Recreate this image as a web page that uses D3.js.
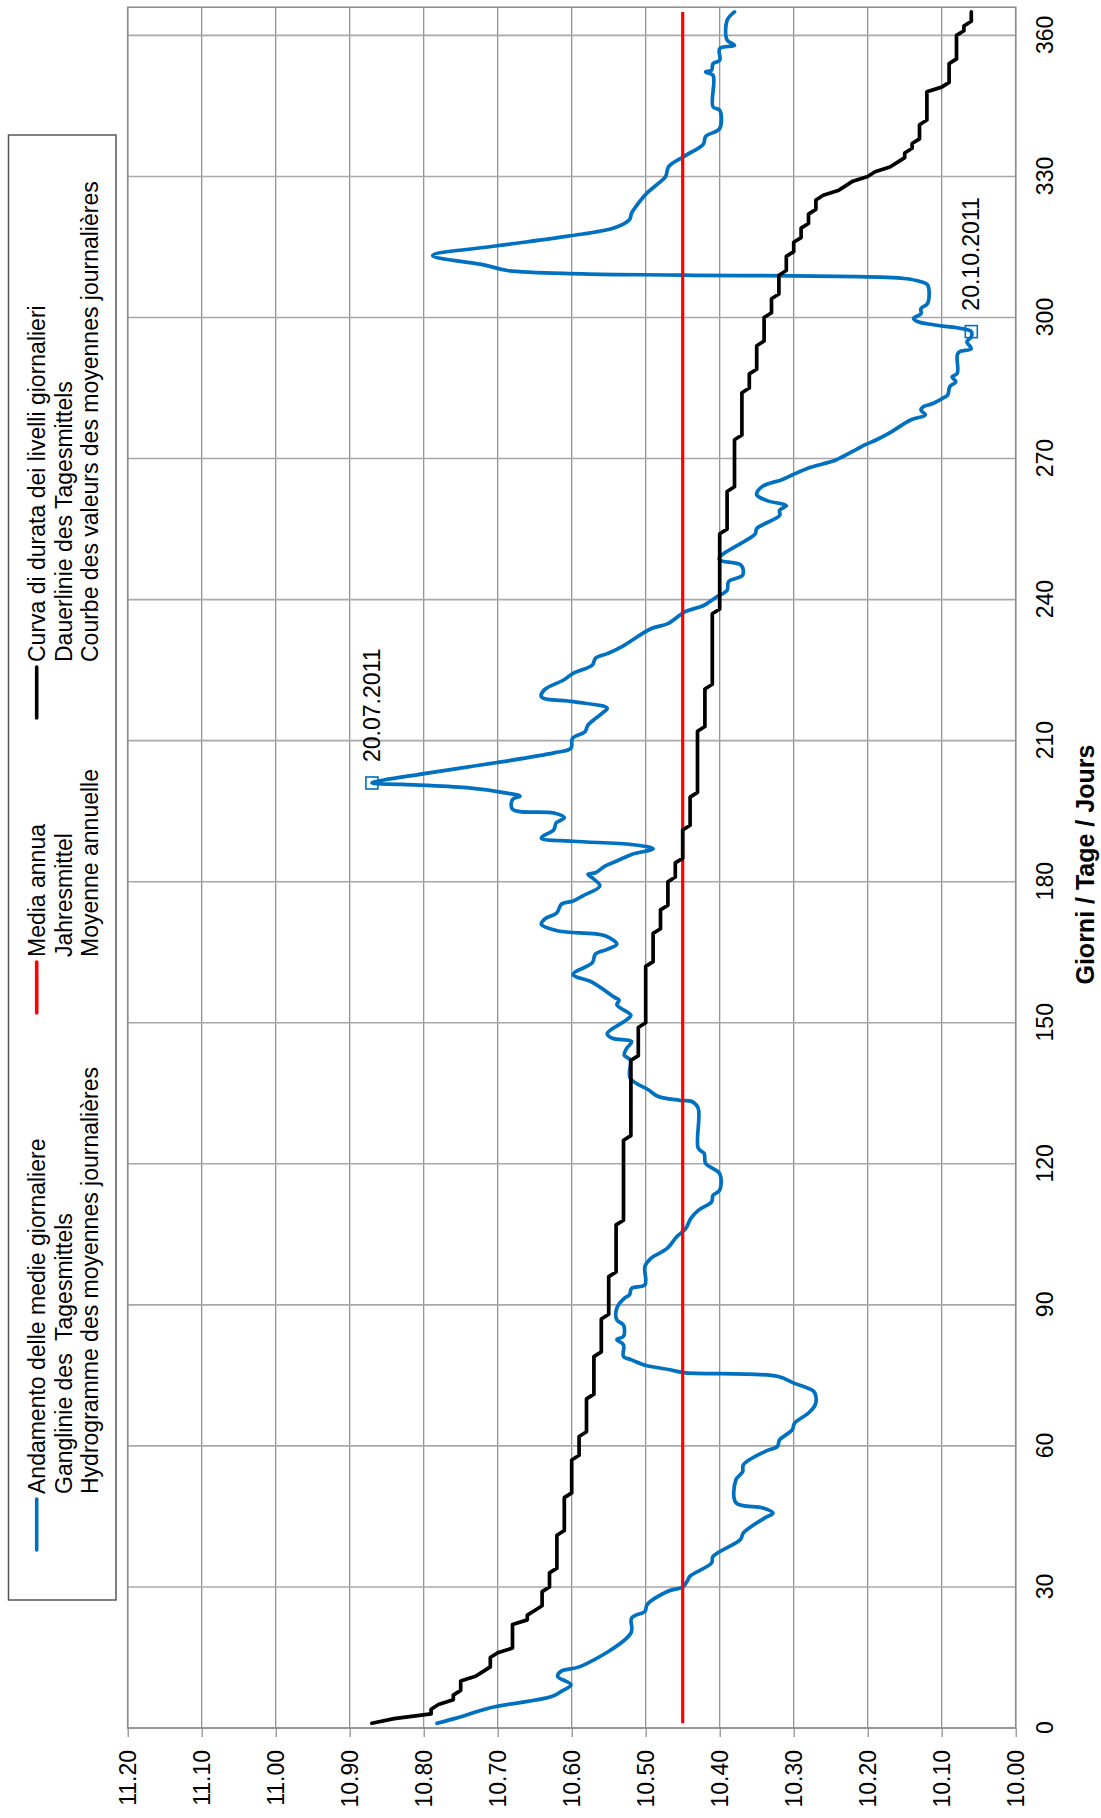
<!DOCTYPE html>
<html>
<head>
<meta charset="utf-8">
<script src="https://cdn.jsdelivr.net/npm/d3@7"></script>
<style>
  html, body { margin: 0; padding: 0; background: #fff; }
  svg { display: block; }
</style>
</head>
<body>
<script>
// Axis ticks
const dayTicks = [0, 30, 60, 90, 120, 150, 180, 210, 240, 270, 300, 330, 360];
const levelTicks = [10.0, 10.1, 10.2, 10.3, 10.4, 10.5, 10.6, 10.7, 10.8, 10.9, 11.0, 11.1, 11.2];

// Daily mean water level (hydrograph), day of year and level [m]
const hydroDays = [
  1, 2.1, 4.3, 6.7, 7.8, 9.2, 11.0, 12.1, 13.1, 20.2, 23.4, 24.8, 25.9, 26.6, 29.1, 30.0,
  31.2, 32.3, 35.1, 36.5, 40.1, 41.5, 44.7, 45.7, 46.8, 47.9, 52.8, 54.5, 56.0, 58.8, 59.9,
  61.3, 63.4, 64.8, 67.0, 68.7, 70.5, 71.6, 73.3, 74.8, 75.6, 76.2, 77.2, 78.3, 79.0, 81.5,
  82.6, 83.3, 85.7, 86.8, 89.3, 91.4, 92.1, 93.5, 94.3, 98.2, 99.9, 102.0, 104.5, 106.2,
  108.4, 110.1, 111.9, 113.3, 114.4, 117.9, 120.1, 122.2, 123.3, 131.8, 133.2, 133.5, 134.3,
  135.7, 138.2, 142.1, 143.1, 144.5, 146.0, 146.7, 147.7, 150.6, 151.6, 153.8, 154.8, 155.4,
  158.6, 160.3, 162.8, 164.6, 165.6, 166.7, 168.5, 169.5, 170.9, 172.0, 173.4, 175.2, 175.9,
  177.0, 179.1, 180.8, 181.6, 181.9, 183.3, 184.4, 185.8, 187.0, 187.9, 188.6, 189.3, 191.1,
  192.5, 193.6, 194.6, 195.4, 197.5, 198.2, 198.9, 200.0, 200.7, 201.0, 203.1, 205.3, 207.4,
  208.4, 210.5, 211.9, 213.3, 215.8, 216.9, 218.3, 219.3, 220.8, 222.9, 224.3, 226.1, 227.5,
  228.5, 230.0, 233.8, 234.9, 237.4, 238.8, 240.6, 242.0, 243.8, 245.2, 247.3, 248.4, 249.1,
  254.0, 255.1, 257.9, 259.0, 260.0, 261.0, 262.3, 264.1, 265.5, 266.5, 268.0, 269.7, 271.8,
  272.9, 274.0, 275.4, 278.2, 279.3, 280.3, 281.0, 281.7, 282.8, 283.5, 285.3, 286.3, 287.4,
  288.1, 292.0, 292.7, 293.4, 294.8, 295.9, 297.0, 298.4, 299.1, 299.8, 300.8, 301.9, 303.0,
  306.9, 307.6, 308.3, 309.0, 309.3, 310.0, 311.1, 313.2, 315.2, 317.3, 319.1, 320.8, 322.2,
  324.7, 326.5, 328.9, 330.0, 332.1, 334.2, 336.9, 338.5, 340.2, 344.1, 344.8, 351.5, 352.2,
  352.6, 354.0, 354.7, 357.2, 357.9, 359.0, 363.2, 365.0
];
const hydroLevels = [
  10.782, 10.756, 10.710, 10.627, 10.614, 10.601, 10.619, 10.614, 10.588, 10.520, 10.519, 10.501, 10.499, 10.496, 10.470, 10.450,
  10.444, 10.440, 10.411, 10.409, 10.372, 10.368, 10.339, 10.328, 10.342, 10.378, 10.378, 10.369, 10.368, 10.339, 10.322,
  10.319, 10.302, 10.299, 10.280, 10.271, 10.270, 10.273, 10.299, 10.322, 10.449, 10.467, 10.502, 10.519, 10.530, 10.530,
  10.539, 10.530, 10.530, 10.539, 10.539, 10.529, 10.522, 10.519, 10.501, 10.501, 10.493, 10.471, 10.458, 10.446,
  10.439, 10.429, 10.411, 10.409, 10.400, 10.400, 10.419, 10.421, 10.429, 10.429, 10.437, 10.454, 10.483,
  10.496, 10.521, 10.521, 10.529, 10.526, 10.519, 10.545, 10.552, 10.526, 10.520, 10.539, 10.536, 10.542,
  10.572, 10.598, 10.572, 10.568, 10.552, 10.539, 10.555, 10.618, 10.641, 10.637, 10.620, 10.614, 10.598,
  10.585, 10.562, 10.572, 10.578, 10.568, 10.555, 10.539, 10.519, 10.490, 10.519, 10.598, 10.641, 10.624,
  10.621, 10.610, 10.624, 10.680, 10.680, 10.670, 10.690, 10.742, 10.828, 10.870, 10.795, 10.703, 10.624,
  10.601, 10.599, 10.582, 10.578, 10.559, 10.552, 10.598, 10.641, 10.637, 10.611, 10.598, 10.572, 10.568,
  10.552, 10.532, 10.493, 10.470, 10.447, 10.421, 10.404, 10.390, 10.388, 10.369, 10.371, 10.400, 10.400,
  10.352, 10.350, 10.319, 10.319, 10.310, 10.335, 10.350, 10.342, 10.316, 10.302, 10.280, 10.243, 10.217,
  10.204, 10.188, 10.171, 10.142, 10.122, 10.128, 10.125, 10.112, 10.099, 10.092, 10.089, 10.081, 10.086,
  10.079, 10.079, 10.076, 10.060, 10.066, 10.060, 10.060, 10.109, 10.132, 10.138, 10.128, 10.128, 10.119,
  10.119, 10.128, 10.151, 10.449, 10.585, 10.687, 10.716, 10.788, 10.703, 10.605, 10.542, 10.522, 10.519,
  10.508, 10.498, 10.480, 10.473, 10.469, 10.449, 10.422, 10.419, 10.400, 10.400, 10.409, 10.409, 10.419,
  10.411, 10.409, 10.400, 10.400, 10.380, 10.390, 10.390, 10.380
];

// Duration curve of daily levels: each level and the last day it is reached
const durationLevels = [
  10.87, 10.84, 10.79, 10.78, 10.76, 10.75, 10.73, 10.72, 10.71, 10.70, 10.68, 10.66, 10.65, 10.64,
  10.63, 10.62, 10.61, 10.60, 10.59, 10.58, 10.57, 10.56, 10.55, 10.54, 10.53, 10.52, 10.51, 10.50,
  10.49, 10.48, 10.47, 10.46, 10.45, 10.44, 10.43, 10.42, 10.41, 10.40, 10.39, 10.38, 10.37, 10.36,
  10.35, 10.34, 10.33, 10.32, 10.31, 10.30, 10.29, 10.28, 10.27, 10.26, 10.24, 10.23, 10.22, 10.20,
  10.19, 10.17, 10.16, 10.15, 10.14, 10.13, 10.12, 10.10, 10.09, 10.08, 10.07, 10.06
];
const durationLastDay = [
  1, 2, 4, 5, 7, 10, 11, 12, 15, 16, 22, 24, 25, 29,
  33, 41, 49, 57, 62, 70, 79, 87, 96, 107, 125, 142, 149, 162,
  169, 174, 180, 184, 191, 198, 212, 221, 237, 254, 263, 274, 284, 288,
  294, 300, 304, 309, 313, 316, 319, 322, 325, 326, 327, 328, 329, 330,
  331, 332, 333, 335, 337, 341, 348, 349, 354, 360, 362, 365
];

// Annual mean level
const meanLevel = 10.45;
const meanDays = [1, 365];

// Annotated extremes
const extremeDays = [201, 297];
const extremeLevels = [10.87, 10.06];
const extremeLabels = ["20.07.2011", "20.10.2011"];

// Legend entries
const legendColors = ["#0070C0", "#FF0000", "#000000"];
const legendTexts = [
  ["Andamento delle medie giornaliere", "Ganglinie des  Tagesmittels", "Hydrogramme des moyennes journalières"],
  ["Media annua", "Jahresmittel", "Moyenne annuelle"],
  ["Curva di durata dei livelli giornalieri", "Dauerlinie des Tagesmittels", "Courbe des valeurs des moyennes journalières"]
];
const xTitle = "Giorni / Tage / Jours";

// ---- Layout (chart is drawn landscape, then turned a quarter turn) ----
const pageW = 1101, pageH = 1818;
const W = pageH, H = pageW;
const plot = { left: 90, right: 1810.8, top: 127.7, bottom: 1015.7 };
const FONT = '"Liberation Sans", Arial, Helvetica, sans-serif';

const svg = d3.select("body").append("svg")
  .attr("width", pageW).attr("height", pageH)
  .attr("viewBox", `0 0 ${pageW} ${pageH}`);
svg.append("rect").attr("width", pageW).attr("height", pageH).attr("fill", "#fff");

const g = svg.append("g").attr("transform", `translate(0,${pageH}) rotate(-90)`);

const x = d3.scaleLinear().domain([0, 366]).range([plot.left, plot.right]);
const y = d3.scaleLinear().domain([10.0, 11.2]).range([plot.bottom, plot.top]);

// Gridlines
g.append("g").selectAll("line").data(levelTicks).join("line")
  .attr("x1", plot.left).attr("x2", plot.right)
  .attr("y1", d => y(d)).attr("y2", d => y(d))
  .attr("stroke", "#8a8a8a").attr("stroke-width", 1.2);
g.append("g").selectAll("line").data(dayTicks).join("line")
  .attr("x1", d => x(d)).attr("x2", d => x(d))
  .attr("y1", plot.top).attr("y2", plot.bottom)
  .attr("stroke", "#a8a8a8").attr("stroke-width", 1.6);

// Plot frame
g.append("rect")
  .attr("x", plot.left).attr("y", plot.top)
  .attr("width", plot.right - plot.left).attr("height", plot.bottom - plot.top)
  .attr("fill", "none").attr("stroke", "#8a8a8a").attr("stroke-width", 1.5);

// Level axis
const yAxis = g.append("g")
  .attr("transform", `translate(${plot.left},0)`)
  .call(d3.axisLeft(y).tickValues(levelTicks).tickFormat(d3.format(".2f")).tickSize(9).tickPadding(13));
yAxis.select(".domain").remove();
yAxis.selectAll(".tick line").attr("stroke", "#8a8a8a").attr("stroke-width", 1.2);
yAxis.selectAll("text").attr("font-family", FONT).attr("font-size", 23).attr("fill", "#000");

// Day axis
const xAxis = g.append("g")
  .attr("transform", `translate(0,${plot.bottom})`)
  .call(d3.axisBottom(x).tickValues(dayTicks).tickSize(0).tickPadding(21));
xAxis.select(".domain").remove();
xAxis.selectAll("text").attr("font-family", FONT).attr("font-size", 23).attr("fill", "#000");

g.append("text")
  .attr("x", (plot.left + plot.right) / 2 + 3).attr("y", 1094)
  .attr("text-anchor", "middle")
  .attr("font-family", FONT).attr("font-size", 25).attr("font-weight", "bold")
  .text(xTitle);

// Series
const hydro = hydroDays.map((d, i) => [d, hydroLevels[i]]);
const duration = [];
durationLevels.forEach((v, i) => {
  const first = i === 0 ? 1 : durationLastDay[i - 1] + 1;
  const last = durationLastDay[i];
  duration.push([first, v]);
  if (last > first) duration.push([last, v]);
});
const mean = meanDays.map(d => [d, meanLevel]);

const smooth = d3.line().x(d => x(d[0])).y(d => y(d[1])).curve(d3.curveCatmullRom.alpha(0.5));
const straight = d3.line().x(d => x(d[0])).y(d => y(d[1]));

g.append("path").datum(hydro).attr("d", smooth)
  .attr("fill", "none").attr("stroke", legendColors[0]).attr("stroke-width", 3.7)
  .attr("stroke-linejoin", "round").attr("stroke-linecap", "round");
g.append("path").datum(mean).attr("d", straight)
  .attr("fill", "none").attr("stroke", legendColors[1]).attr("stroke-width", 3.2);
g.append("path").datum(duration).attr("d", straight)
  .attr("fill", "none").attr("stroke", legendColors[2]).attr("stroke-width", 3.7)
  .attr("stroke-linejoin", "round").attr("stroke-linecap", "round");

// Extreme markers and date labels
const ext = g.append("g");
extremeDays.forEach((d, i) => {
  ext.append("rect")
    .attr("x", x(d) - 6).attr("y", y(extremeLevels[i]) - 6)
    .attr("width", 12).attr("height", 12)
    .attr("fill", "none").attr("stroke", legendColors[0]).attr("stroke-width", 1.6);
  ext.append("text")
    .attr("x", x(d) + 21).attr("y", y(extremeLevels[i])).attr("dy", "0.35em")
    .attr("font-family", FONT).attr("font-size", 23).attr("fill", "#000")
    .text(extremeLabels[i]);
});

// Legend
const legend = g.append("g");
legend.append("rect")
  .attr("x", 218).attr("y", 8.5).attr("width", 1465).attr("height", 107.5)
  .attr("fill", "#fff").attr("stroke", "#555").attr("stroke-width", 1.5);
const legendX = [268, 805, 1100];
legendColors.forEach((c, i) => {
  legend.append("line")
    .attr("x1", legendX[i]).attr("x2", legendX[i] + 51)
    .attr("y1", 36.7).attr("y2", 36.7)
    .attr("stroke", c).attr("stroke-width", 3.6).attr("stroke-linecap", "round");
  legendTexts[i].forEach((t, j) => {
    legend.append("text")
      .attr("x", legendX[i] + 56).attr("y", 45 + j * 26.6)
      .attr("font-family", FONT).attr("font-size", 23).attr("fill", "#000")
      .attr("xml:space", "preserve").style("white-space", "pre")
      .text(t);
  });
});
</script>
</body>
</html>
